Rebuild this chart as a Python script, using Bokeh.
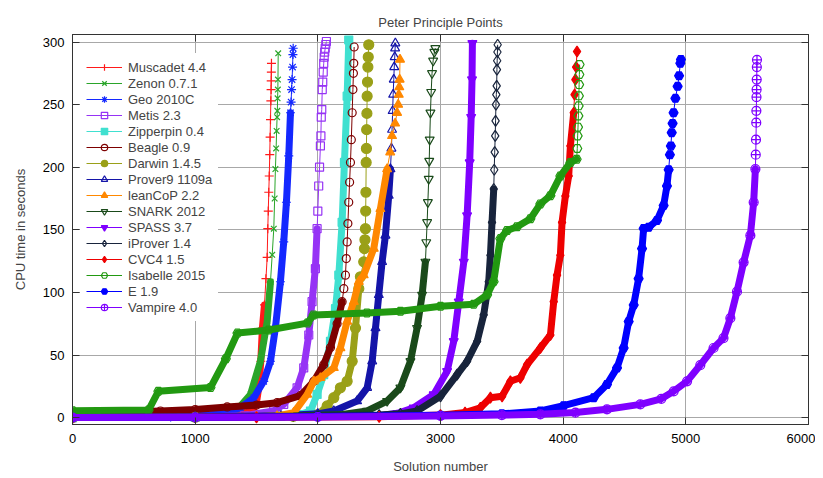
from bokeh.plotting import figure
from bokeh.models import Range1d, LinearAxis, FixedTicker, Legend, LegendItem
from bokeh.embed import file_html
from bokeh.resources import INLINE

x_ticks = [0, 1000, 2000, 3000, 4000, 5000, 6000]
y_ticks = [0, 50, 100, 150, 200, 250, 300]

muscadet_x = [0, 800, 1200, 1400, 1470, 1500, 1520, 1535, 1548, 1565, 1577, 1587, 1592, 1596, 1600, 1604, 1608, 1611, 1614, 1617, 1619, 1620, 1621, 1622]
muscadet_y = [0, 0.8, 2, 3.5, 6, 12, 25, 45, 71.5, 90, 111, 128, 150.9, 165, 180, 193, 210, 224, 238, 253, 262, 269, 276, 283]

zenon_x = [0, 1000, 1250, 1350, 1451, 1532, 1587, 1614, 1628, 1641, 1648, 1654, 1660, 1664, 1668, 1670, 1672, 1674, 1675, 1677]
zenon_y = [0, 1, 3, 7, 18.5, 45, 76.8, 108.5, 130, 150.9, 175, 198.5, 215, 229, 240, 245, 255, 262, 270, 291]

geo_x = [0, 800, 1100, 1250, 1369, 1478, 1559, 1614, 1654, 1695, 1722, 1744, 1763, 1777, 1782, 1786, 1790, 1794, 1797, 1799]
geo_y = [0, 0.5, 2, 4, 7.9, 15.9, 29, 45, 71.5, 108.5, 140.3, 172, 209, 243.5, 252, 262, 270, 280, 290, 295]

metis_x = [0, 1000, 1400, 1640, 1722, 1831, 1885, 1926, 1953, 1980, 1994, 2000, 2007, 2014, 2021, 2025, 2028, 2032, 2036, 2040, 2044, 2048, 2052, 2056, 2060, 2065, 2070]
metis_y = [0, 0.3, 1.5, 5.3, 10.6, 23.8, 39.7, 66, 92.6, 119, 150.9, 165, 185, 200, 217, 225, 240, 246, 262, 268, 276, 283, 288, 292, 295, 298, 300.4]

zipperpin_x = [0, 1000, 1700, 1850, 1940, 1994, 2048, 2103, 2144, 2171, 2198, 2217, 2239, 2252]
zipperpin_y = [0, 0.3, 1, 2.5, 5.3, 18.5, 34.4, 61, 87, 113.8, 156, 203.8, 256.7, 301.6]

beagle_x = [0, 300, 717, 1000, 1261, 1500, 1668, 1858, 1967, 2048, 2103, 2157, 2198, 2212, 2225, 2232, 2239, 2245, 2252, 2259, 2266, 2273, 2280, 2286, 2290, 2293, 2296]
beagle_y = [2.5, 4, 5.3, 6.5, 8.5, 10, 11.9, 17.5, 29, 42.3, 56, 75, 92.6, 103, 113.8, 127, 140.3, 155, 172, 188, 203.8, 222, 243.5, 262, 275, 283, 296]

darwin_x = [0, 1000, 1800, 2000, 2076, 2130, 2184, 2239, 2280, 2307, 2334, 2347, 2374, 2380, 2384, 2388, 2390, 2392, 2394, 2396, 2398, 2400, 2402, 2405, 2408, 2411, 2415]
darwin_y = [0, 0.3, 1, 2.5, 9.3, 15.9, 23.8, 29, 45, 71.5, 103, 112.5, 124.4, 135, 142, 150.9, 165, 180, 203.8, 215, 230, 243, 256.7, 268, 280, 288, 297.8]

prover9_x = [0, 1000, 1700, 2000, 2130, 2320, 2402, 2443, 2470, 2497, 2524, 2551, 2578, 2592, 2600, 2605, 2610, 2614, 2619, 2623, 2627, 2630, 2632]
prover9_y = [0, 0.5, 1.5, 3, 5.3, 13.2, 23.8, 45, 71.5, 98, 124.4, 145.5, 177.3, 198.5, 215, 230, 245, 258, 270, 280, 288, 295, 299]

leancop_x = [0, 1000, 1500, 1668, 1804, 1913, 1967, 2021, 2130, 2184, 2239, 2293, 2334, 2374, 2456, 2510, 2565, 2590, 2605, 2630, 2646, 2655, 2660, 2664, 2667, 2670]
leancop_y = [0, 0.2, 0.6, 1.3, 4, 18.5, 29, 31.7, 39.7, 55.6, 76.8, 92.6, 108.5, 113.8, 135, 166.7, 198.5, 212, 225, 235, 243.5, 250, 258, 264, 270, 286]

snark_x = [0, 1000, 1800, 2200, 2402, 2565, 2673, 2755, 2809, 2850, 2877, 2884, 2891, 2897, 2904, 2908, 2912, 2918, 2924, 2931, 2940, 2950, 2958]
snark_y = [0, 0.5, 1.2, 2.5, 5.3, 13.2, 23.8, 45, 71.5, 98, 124.4, 140, 156, 172, 190.6, 205, 222, 243.5, 260, 275, 285, 292, 295]

spass_x = [0, 1000, 2000, 2500, 2650, 2782, 2945, 3054, 3108, 3149, 3190, 3217, 3238, 3250, 3257, 3260]
spass_y = [0, 0.2, 0.6, 1.5, 3.5, 7.9, 18.5, 37, 61, 92.6, 124.4, 161.4, 203.8, 240, 270, 299]

iprover_x = [0, 1000, 2000, 2500, 2673, 2809, 3000, 3135, 3217, 3299, 3352, 3393, 3407, 3420, 3434, 3438, 3442, 3446, 3449, 3452, 3455, 3458, 3460, 3462, 3464, 3466]
iprover_y = [0, 0.3, 1, 2, 3, 5.3, 17, 34.4, 45, 61, 82, 108.5, 129.7, 156, 182.6, 198, 212, 225, 237, 250, 258, 265, 278, 285, 292, 297.8]

cvc4_x = [0, 1500, 2500, 3000, 3200, 3325, 3407, 3502, 3570, 3651, 3706, 3814, 3896, 3923, 3950, 3977, 3991, 4018, 4045, 4059, 4086, 4093, 4100, 4106, 4113]
cvc4_y = [0, 0.2, 0.6, 2, 4, 7.9, 15.9, 17, 29, 31.8, 42.3, 55.6, 66, 92.6, 113.8, 129.7, 156, 177, 193, 217, 243.5, 258, 270, 280, 292.4]

isabelle_x = [0, 620, 700, 1125, 1250, 1345, 1600, 1915, 1965, 2400, 2673, 3000, 3270, 3380, 3433, 3488, 3543, 3624, 3733, 3814, 3896, 3977, 4059, 4110, 4115, 4118, 4121, 4124, 4126, 4128, 4130, 4132, 4134]
isabelle_y = [5.5, 6, 21, 24, 47, 67.5, 70, 75.5, 82, 83.5, 85, 89, 90.5, 98, 108.6, 143, 149.5, 152.4, 158.8, 170.7, 177.3, 193, 203.8, 206.4, 215, 225, 232, 241, 249, 257, 266, 274, 282]

e_x = [0, 1000, 2000, 3000, 3500, 3814, 4004, 4249, 4357, 4439, 4493, 4534, 4575, 4615, 4643, 4656, 4697, 4765, 4819, 4846, 4860, 4870, 4878, 4885, 4892, 4900, 4915, 4933, 4945, 4955, 4960]
e_y = [0, 0.3, 0.8, 1.8, 3, 5.3, 9.5, 15.9, 26.5, 39.7, 55.6, 76.8, 90, 111, 135, 151, 152, 157.5, 169.4, 185, 198, 210, 217, 227.6, 235, 243.5, 255, 264.6, 273, 283, 286]

vampire_x = [0, 1000, 2000, 3000, 3500, 3814, 4100, 4357, 4629, 4800, 4901, 5010, 5118, 5226, 5307, 5363, 5417, 5471, 5526, 5553, 5567, 5570, 5572, 5574, 5575, 5576, 5577, 5578, 5579, 5580]
vampire_y = [0, 0.2, 0.5, 1.3, 2, 2.6, 4, 6.6, 10.6, 15, 21, 29, 42, 55.6, 63.5, 79.4, 100.6, 124, 145.5, 172, 198.5, 210, 222, 235.6, 245, 256, 262, 270, 280, 285.8]

# name, x, y, color, marker, filled, marker size, dense-band limit (style)
series = [
    ("Muscadet 4.4", muscadet_x, muscadet_y, "#ff1a1a", "cross", False, 9, 90),
    ("Zenon 0.7.1", zenon_x, zenon_y, "#2aa52a", "x", False, 8, 110),
    ("Geo 2010C", geo_x, geo_y, "#1428ff", "asterisk", False, 9, 245),
    ("Metis 2.3", metis_x, metis_y, "#9633f5", "square", False, 8, 151),
    ("Zipperpin 0.4", zipperpin_x, zipperpin_y, "#40e0d0", "square", True, 8, 305),
    ("Beagle 0.9", beagle_x, beagle_y, "#7d0000", "circle", False, 8, 95),
    ("Darwin 1.4.5", darwin_x, darwin_y, "#9aa018", "circle", True, 10, 115),
    ("Prover9 1109a", prover9_x, prover9_y, "#1414a8", "triangle", False, 9, 200),
    ("leanCoP 2.2", leancop_x, leancop_y, "#ff8800", "triangle", True, 9, 200),
    ("SNARK 2012", snark_x, snark_y, "#1a4a1a", "inverted_triangle", False, 9, 125),
    ("SPASS 3.7", spass_x, spass_y, "#7f00ff", "inverted_triangle", True, 9, 305),
    ("iProver 1.4", iprover_x, iprover_y, "#18243c", "diamond", False, 11, 185),
    ("CVC4 1.5", cvc4_x, cvc4_y, "#ee0000", "diamond", True, 11, 250),
    ("Isabelle 2015", isabelle_x, isabelle_y, "#229911", "hex", False, 9, 207),
    ("E 1.9", e_x, e_y, "#0000ff", "hex", True, 9, 200),
    ("Vampire 4.0", vampire_x, vampire_y, "#7f00ff", "circle_cross", False, 9, 200),
]

FONT = "Liberation Sans"

p = figure(width=815, height=476, output_backend="svg", toolbar_location=None,
           x_range=Range1d(0, 6000), y_range=Range1d(-5.5, 306),
           min_border_left=72, min_border_right=7, min_border_top=34, min_border_bottom=49)

p.title.text = "Peter Principle Points"
p.title.align = "center"
p.title.text_font = FONT
p.title.text_font_style = "normal"
p.title.text_font_size = "13px"
p.title.standoff = 10

p.outline_line_color = "#333333"
p.outline_line_width = 1

for ax, ticks in ((p.xaxis[0], x_ticks), (p.yaxis[0], y_ticks)):
    ax.ticker = FixedTicker(ticks=ticks)
    ax.major_tick_in = 7
    ax.major_tick_out = 0
    ax.minor_tick_line_color = None
    ax.axis_line_color = "#333333"
    ax.major_tick_line_color = "#333333"
    ax.major_label_text_font = FONT
    ax.major_label_text_font_size = "13px"
    ax.major_label_text_color = "#000000"
    ax.axis_label_text_font = FONT
    ax.axis_label_text_font_size = "13px"
    ax.axis_label_text_font_style = "normal"

p.xaxis.axis_label = "Solution number"
p.yaxis.axis_label = "CPU time in seconds"
p.xaxis.major_label_standoff = 9
p.yaxis.major_label_standoff = 8
p.xaxis.axis_label_standoff = 13
p.yaxis.axis_label_standoff = 12

top_ax = LinearAxis(ticker=FixedTicker(ticks=x_ticks), major_tick_in=7, major_tick_out=0,
                    minor_tick_line_color=None, major_label_text_font_size="1px",
                    major_label_text_color=None,
                    major_label_standoff=0, axis_line_color="#333333",
                    major_tick_line_color="#333333")
right_ax = LinearAxis(ticker=FixedTicker(ticks=y_ticks), major_tick_in=7, major_tick_out=0,
                      minor_tick_line_color=None, major_label_text_font_size="1px",
                      major_label_text_color=None,
                      major_label_standoff=0, axis_line_color="#333333",
                      major_tick_line_color="#333333")
p.add_layout(top_ax, "above")
p.add_layout(right_ax, "right")

p.xgrid.ticker = FixedTicker(ticks=x_ticks)
p.ygrid.ticker = FixedTicker(ticks=y_ticks)
for g in (p.xgrid[0], p.ygrid[0]):
    g.grid_line_color = "#a8a8a8"
    g.grid_line_width = 1

items = []
for name, xs, ys, color, marker, filled, size, cut in series:
    k = sum(1 for v in ys if v <= cut)
    p.line(xs[:k], ys[:k], line_width=7, line_color=color, line_join="round", line_cap="round")
    thin = p.line(xs, ys, line_width=1, line_color=color)
    marks = p.scatter(xs, ys, marker=marker, size=size, line_color=color, line_width=1.2,
                      fill_color=color if filled else None)
    items.append(LegendItem(label=name, renderers=[thin, marks]))

legend = Legend(items=items, location=(8, 103), padding=6, spacing=0,
                label_height=16, glyph_height=16, glyph_width=36, label_standoff=6,
                label_text_font=FONT, label_text_font_size="13px",
                border_line_alpha=0, background_fill_color="white", background_fill_alpha=1)
p.add_layout(legend)

open("out.html", "w").write(file_html(p, INLINE))
